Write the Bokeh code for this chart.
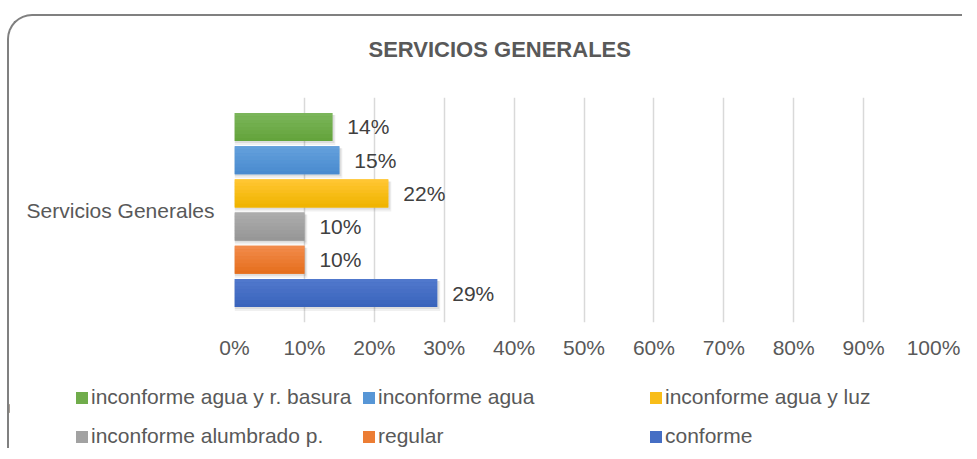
from bokeh.plotting import figure
from bokeh.layouts import column
from bokeh.models import (ColumnDataSource, FactorRange, Range1d, NumeralTickFormatter,
                          FixedTicker, Legend, LegendItem)
from bokeh.transform import dodge
from bokeh.core.properties import value
from bokeh.embed import file_html
from bokeh.resources import INLINE

# ---- data ----
category = "Servicios Generales"
series = ["inconforme agua y r. basura", "inconforme agua", "inconforme agua y luz",
          "inconforme alumbrado p.", "regular", "conforme"]
values = [0.14, 0.15, 0.22, 0.10, 0.10, 0.29]
labels = ["14%", "15%", "22%", "10%", "10%", "29%"]
colors = ["#6EAB46", "#5597D4", "#FDC10F", "#A5A5A5", "#EE7B33", "#4670C4"]
top_colors = ["#7BB55A", "#64A0DC", "#FFC632", "#ACACAC", "#F28B4B", "#5078CC"]
bottom_colors = ["#64A43C", "#4A8BCF", "#F0B400", "#979797", "#E56F1E", "#3A64BC"]
x_ticks = [0.0, 0.1, 0.2, 0.3, 0.4, 0.5, 0.6, 0.7, 0.8, 0.9, 1.0]
title = "SERVICIOS GENERALES"

FONT = "Liberation Sans"
GREY = "#595959"


def mix(c1, c2, t):
    a = [int(c1[i:i + 2], 16) for i in (1, 3, 5)]
    b = [int(c2[i:i + 2], 16) for i in (1, 3, 5)]
    return "#" + "".join("%02x" % round(a[k] + (b[k] - a[k]) * t) for k in range(3))


W = 955
H_T, H1, H2 = 64, 286, 84


def clear_bg(fig):
    fig.outline_line_color = None
    fig.background_fill_alpha = 0
    fig.border_fill_alpha = 0


# ---- title strip ----
pt = figure(width=W, height=H_T, output_backend="svg", toolbar_location=None,
            x_axis_type=None, y_axis_type=None, x_range=Range1d(0, 1), y_range=Range1d(0, 1),
            min_border_left=225, min_border_right=29, min_border_top=0, min_border_bottom=0)
clear_bg(pt)
pt.xgrid.visible = False
pt.ygrid.visible = False
pt.title.text = title
pt.title.text_font = FONT
pt.title.text_font_size = "22px"
pt.title.text_font_style = "bold"
pt.title.text_color = GREY
pt.title.align = "left"
pt.title.offset = 134
pt.title.standoff = 38

# ---- main chart ----
p = figure(width=W, height=H1, output_backend="svg", toolbar_location=None,
           y_range=FactorRange(factors=[category]), x_range=Range1d(0, 1),
           min_border_left=225, min_border_right=29, min_border_top=17, min_border_bottom=44)
clear_bg(p)

p.xaxis.ticker = FixedTicker(ticks=x_ticks)
p.xaxis.formatter = NumeralTickFormatter(format="0%")
for ax in (p.xaxis, p.yaxis):
    ax.axis_line_color = None
    ax.major_tick_line_color = None
    ax.minor_tick_line_color = None
    ax.major_tick_out = 0
    ax.major_tick_in = 0
    ax.minor_tick_out = 0
    ax.minor_tick_in = 0
    ax.major_label_text_font = FONT
    ax.major_label_text_font_size = "21px"
    ax.major_label_text_color = GREY
p.xaxis.major_label_standoff = 13
p.yaxis.major_label_standoff = 20

p.xgrid.grid_line_color = "#D9D9D9"
p.xgrid.grid_line_width = 1.5
p.ygrid.grid_line_color = None

pitch = 0.1476
bar_h = 0.1244
px_y = 1 / 225.0   # one screen pixel in y-range units
px_x = 1 / 700.0   # one screen pixel in x-range units
K = 8              # gradient strips
n = len(series)
sources = []
for i in range(n):
    off = ((n - 1) / 2 - i) * pitch
    src = ColumnDataSource(dict(cat=[category], val=[values[i]], lab=[labels[i]]))
    sources.append(src)
    # soft shadow
    p.hbar(y=dodge("cat", off - 3 * px_y, range=p.y_range), left=0,
           right=dodge("val", 3 * px_x), height=bar_h + 2 * px_y,
           source=src, fill_color="#000000", fill_alpha=0.06, line_color=None)
    p.hbar(y=dodge("cat", off - 2 * px_y, range=p.y_range), left=0,
           right=dodge("val", 2 * px_x), height=bar_h,
           source=src, fill_color="#000000", fill_alpha=0.08, line_color=None)
    # bar with vertical gradient
    p.hbar(y=dodge("cat", off, range=p.y_range), left=0, right="val", height=bar_h,
           source=src, fill_color=colors[i], line_color=None)
    sh = bar_h / K
    for k in range(K):
        yc = off + bar_h / 2 - (k + 0.5) * sh
        p.hbar(y=dodge("cat", yc, range=p.y_range), left=0, right="val", height=sh * 1.02,
               source=src, fill_color=mix(top_colors[i], bottom_colors[i], k / (K - 1)),
               line_color=None)
    p.text(x="val", y=dodge("cat", off, range=p.y_range), text="lab", source=src,
           x_offset=15, text_baseline="middle", text_align="left",
           text_font=value(FONT), text_font_size="21px", text_color="#404040")

# ---- legend strip (same series, same colours) ----
p2 = figure(width=W, height=H2, output_backend="svg", toolbar_location=None,
            x_axis_type=None, y_axis_type=None, x_range=Range1d(2, 3),
            y_range=FactorRange(factors=[category]),
            min_border_left=0, min_border_right=0, min_border_top=0, min_border_bottom=0)
p2.frame_align = False
clear_bg(p2)
p2.xgrid.visible = False
p2.ygrid.visible = False

leg_r = []
for i in range(n):
    # same data; the x range of this strip keeps the bars out of view
    leg_r.append(p2.hbar(y="cat", left=0, right="val", height=0.1, source=sources[i],
                         fill_color=mix(top_colors[i], bottom_colors[i], 0.5), line_color=None))

cols = [(0, 3, 65), (1, 4, 352), (2, 5, 639)]
for a, b, x in cols:
    leg = Legend(items=[LegendItem(label=series[a], renderers=[leg_r[a]]),
                        LegendItem(label=series[b], renderers=[leg_r[b]])],
                 location=(x, 2), orientation="vertical",
                 glyph_width=15, glyph_height=15, label_standoff=2,
                 label_height=24, spacing=15, padding=0, margin=0,
                 label_text_font=FONT, label_text_font_size="21px", label_text_color=GREY,
                 background_fill_alpha=0, border_line_color=None)
    p2.add_layout(leg, "center")

layout = column(pt, p, p2, spacing=0, width=W, height=H_T + H1 + H2)
layout.styles = {"border-left": "2px solid #808080", "border-top": "2px solid #808080",
                 "border-top-left-radius": "25px", "position": "relative",
                 "top": "14px", "left": "7px", "background-color": "white",
                 "min-height": "%dpx" % (H_T + H1 + H2)}

open("out.html", "w").write(file_html(layout, INLINE))
